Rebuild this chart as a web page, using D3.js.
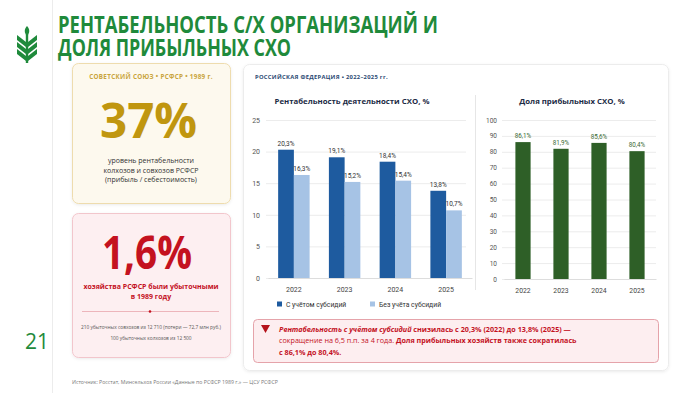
<!DOCTYPE html>
<html>
<head>
<meta charset="utf-8">
<script src="https://cdn.jsdelivr.net/npm/d3@7"></script>
<style>
  body { margin: 0; background: #fff; }
  svg { display: block; font-family: "Open Sans", "Noto Sans", sans-serif; }
</style>
</head>
<body>
<div id="chart"></div>
<script>
// chart data
const years = ['2022', '2023', '2024', '2025'];
const withSubsidy = [20.3, 19.1, 18.4, 13.8];
const withoutSubsidy = [16.3, 15.2, 15.4, 10.7];
const profitableShare = [86.1, 81.9, 85.6, 80.4];
const leftTicks = [0, 5, 10, 15, 20, 25];
const rightTicks = [0, 10, 20, 30, 40, 50, 60, 70, 80, 90, 100];
const seriesNames = ['С учётом субсидий', 'Без учёта субсидий'];

const W = 700, H = 393;
const fmt = v => String(v).replace('.', ',') + '%';

const svg = d3.select('#chart').append('svg')
  .attr('width', W)
  .attr('height', H);

const defs = svg.append('defs');
const shadow = defs.append('filter').attr('id', 'shadow')
  .attr('x', '-5%').attr('y', '-5%').attr('width', '110%').attr('height', '110%');
shadow.append('feDropShadow')
  .attr('dx', 0).attr('dy', 1).attr('stdDeviation', 1.5)
  .attr('flood-color', '#000').attr('flood-opacity', 0.08);

// left strip divider
svg.append('line')
  .attr('x1', 52.5).attr('x2', 52.5).attr('y1', 0).attr('y2', H)
  .attr('stroke', '#ececec');

// wheat logo
const logo = svg.append('g').attr('transform', 'translate(27, 26)').attr('fill', '#1f8a3b');
logo.append('rect').attr('x', -1.2).attr('y', 8).attr('width', 2.4).attr('height', 29);
logo.append('path').attr('d', 'M0,0 C3,3 3,7 0,10 C-3,7 -3,3 0,0Z');
[9, 16, 23].forEach(y => {
  logo.append('path').attr('d', `M-1,${y + 7} L-10,${y} L-10,${y + 5} L-1,${y + 12}Z`);
  logo.append('path').attr('d', `M1,${y + 7} L10,${y} L10,${y + 5} L1,${y + 12}Z`);
});

// page number
svg.append('text')
  .attr('x', 37).attr('y', 349)
  .attr('text-anchor', 'middle')
  .attr('font-size', 21)
  .attr('fill', '#1f8a3b')
  .text('21');

// title
const titleLines = ['РЕНТАБЕЛЬНОСТЬ С/Х ОРГАНИЗАЦИЙ И', 'ДОЛЯ ПРИБЫЛЬНЫХ СХО'];
const titleWidths = [380, 233];
titleLines.forEach((t, i) => {
  svg.append('text')
    .attr('x', 58).attr('y', 33 + i * 23)
    .attr('font-size', 24)
    .attr('font-weight', 700)
    .attr('fill', '#1f8a3b')
    .attr('textLength', titleWidths[i])
    .attr('lengthAdjust', 'spacingAndGlyphs')
    .text(t);
});

// card helper
function card(x, y, w, h, fill, stroke) {
  return svg.append('rect')
    .attr('x', x).attr('y', y).attr('width', w).attr('height', h)
    .attr('rx', 6)
    .attr('fill', fill)
    .attr('stroke', stroke)
    .attr('filter', 'url(#shadow)');
}

// Soviet card (gold)
card(72.5, 63.5, 158, 140, '#fdf9ee', '#eedcae');
svg.append('text')
  .attr('x', 151).attr('y', 78.5)
  .attr('text-anchor', 'middle')
  .attr('font-size', 6.3).attr('font-weight', 700)
  .attr('fill', '#c9a43c')
  .attr('letter-spacing', 0.3)
  .text('СОВЕТСКИЙ СОЮЗ • РСФСР • 1989 г.');
svg.append('text')
  .attr('x', 100).attr('y', 138)
  .attr('font-size', 48).attr('font-weight', 700)
  .attr('fill', '#c0960f')
  .attr('textLength', 97)
  .attr('lengthAdjust', 'spacingAndGlyphs')
  .text('37%');
['уровень рентабельности', 'колхозов и совхозов РСФСР', '(прибыль / себестоимость)'].forEach((t, i) => {
  svg.append('text')
    .attr('x', 151).attr('y', 163 + i * 9.5)
    .attr('text-anchor', 'middle')
    .attr('font-size', 7)
    .attr('fill', '#333')
    .text(t);
});

// loss card (red)
card(72.5, 213.5, 158, 144, '#fdeff1', '#f2c6cc');
svg.append('text')
  .attr('x', 102).attr('y', 269)
  .attr('font-size', 47).attr('font-weight', 700)
  .attr('fill', '#c4121f')
  .attr('textLength', 90)
  .attr('lengthAdjust', 'spacingAndGlyphs')
  .text('1,6%');
['хозяйства РСФСР были убыточными', 'в 1989 году'].forEach((t, i) => {
  svg.append('text')
    .attr('x', 151).attr('y', 288.5 + i * 10.5)
    .attr('text-anchor', 'middle')
    .attr('font-size', 7).attr('font-weight', 700)
    .attr('fill', '#c4121f')
    .text(t);
});
svg.append('line')
  .attr('x1', 82).attr('x2', 219).attr('y1', 311.5).attr('y2', 311.5)
  .attr('stroke', '#e9a6ad').attr('stroke-width', 0.8);
svg.append('circle').attr('cx', 150).attr('cy', 311.5).attr('r', 1.3).attr('fill', '#c4121f');
['210 убыточных совхозов из 12 710 (потери — 72,7 млн руб.)', '100 убыточных колхозов из 12 500'].forEach((t, i) => {
  svg.append('text')
    .attr('x', 151).attr('y', 329 + i * 10.5)
    .attr('text-anchor', 'middle')
    .attr('font-size', 4.8)
    .attr('fill', '#555')
    .text(t);
});

// Russian Federation card
card(243.5, 64.5, 425, 306, '#ffffff', '#ececec');
svg.append('text')
  .attr('x', 255).attr('y', 78.5)
  .attr('font-size', 5.8).attr('font-weight', 700)
  .attr('fill', '#2b4a73')
  .attr('letter-spacing', 0.3)
  .text('РОССИЙСКАЯ ФЕДЕРАЦИЯ • 2022–2025 гг.');

// --- left chart: profitability ---
const lx = d3.scaleBand().domain(years).range([268, 472]).paddingInner(0.38).paddingOuter(0.2);
const ly = d3.scaleLinear().domain([0, 25]).range([278, 120]);
const sub = d3.scaleBand().domain([0, 1]).range([0, lx.bandwidth()]);
const blue = ['#1e5b9f', '#a6c3e5'];

const lc = svg.append('g');
lc.append('text')
  .attr('x', 352).attr('y', 104)
  .attr('text-anchor', 'middle')
  .attr('font-size', 7.8).attr('font-weight', 700)
  .attr('fill', '#1c2b45')
  .text('Рентабельность деятельности СХО, %');

const lyAxis = lc.append('g')
  .attr('transform', 'translate(266,0)')
  .call(d3.axisLeft(ly).tickValues(leftTicks).tickSize(-200).tickFormat(d3.format('d')));
lyAxis.select('.domain').remove();
lyAxis.selectAll('.tick line').attr('stroke', '#ececec');
lyAxis.selectAll('.tick text').attr('x', -6).attr('font-size', 7).attr('fill', '#555')
  .attr('font-family', 'Roboto, sans-serif');

const lxAxis = lc.append('g')
  .attr('transform', 'translate(0,278)')
  .call(d3.axisBottom(lx).tickSize(0));
lxAxis.select('.domain').attr('stroke', '#ddd');
lxAxis.selectAll('.tick text').attr('y', 9).attr('font-size', 7).attr('fill', '#444')
  .attr('font-family', 'Roboto, sans-serif');

[withSubsidy, withoutSubsidy].forEach((series, s) => {
  const grp = lc.append('g');
  grp.selectAll('rect')
    .data(series)
    .enter()
    .append('rect')
    .attr('x', (d, i) => lx(years[i]) + sub(s))
    .attr('y', d => ly(d))
    .attr('width', sub.bandwidth())
    .attr('height', d => ly(0) - ly(d))
    .attr('fill', blue[s]);
  grp.selectAll('text')
    .data(series)
    .enter()
    .append('text')
    .attr('x', (d, i) => lx(years[i]) + sub(s) + sub.bandwidth() / 2)
    .attr('y', d => ly(d) - 4)
    .attr('text-anchor', 'middle')
    .attr('font-size', 6.5)
    .attr('fill', '#333')
    .attr('font-family', 'Roboto, sans-serif')
    .text(d => fmt(d));
});

// legend
const legendX = [277, 370];
seriesNames.forEach((name, i) => {
  lc.append('rect')
    .attr('x', legendX[i]).attr('y', 301.5)
    .attr('width', 5).attr('height', 5)
    .attr('fill', blue[i]);
  lc.append('text')
    .attr('x', legendX[i] + 9).attr('y', 306.5)
    .attr('font-size', 6.8)
    .attr('fill', '#333')
    .attr('font-family', 'Roboto, sans-serif')
    .text(name);
});

// divider between charts
svg.append('line')
  .attr('x1', 475.5).attr('x2', 475.5).attr('y1', 95).attr('y2', 290)
  .attr('stroke', '#e6e6e6');

// --- right chart: share of profitable ---
const rx = d3.scaleBand().domain(years).range([504, 656]).paddingInner(0.6).paddingOuter(0.3);
const ry = d3.scaleLinear().domain([0, 100]).range([279, 120]);
const green = '#2e5f27';

const rc = svg.append('g');
rc.append('text')
  .attr('x', 572).attr('y', 104)
  .attr('text-anchor', 'middle')
  .attr('font-size', 7.8).attr('font-weight', 700)
  .attr('fill', '#1c2b45')
  .text('Доля прибыльных СХО, %');

const ryAxis = rc.append('g')
  .attr('transform', 'translate(502,0)')
  .call(d3.axisLeft(ry).tickValues(rightTicks).tickSize(-154).tickFormat(d3.format('d')));
ryAxis.select('.domain').remove();
ryAxis.selectAll('.tick line').attr('stroke', '#ececec');
ryAxis.selectAll('.tick text').attr('x', -5).attr('font-size', 6.5).attr('fill', '#555')
  .attr('font-family', 'Roboto, sans-serif');

const rxAxis = rc.append('g')
  .attr('transform', 'translate(0,279)')
  .call(d3.axisBottom(rx).tickSize(0));
rxAxis.select('.domain').attr('stroke', '#ddd');
rxAxis.selectAll('.tick text').attr('y', 9).attr('font-size', 6.8).attr('fill', '#444')
  .attr('font-family', 'Roboto, sans-serif');

rc.selectAll('.bar')
  .data(profitableShare)
  .enter()
  .append('rect')
  .attr('class', 'bar')
  .attr('x', (d, i) => rx(years[i]))
  .attr('y', d => ry(d))
  .attr('width', rx.bandwidth())
  .attr('height', d => ry(0) - ry(d))
  .attr('fill', green);
rc.selectAll('.bar-label')
  .data(profitableShare)
  .enter()
  .append('text')
  .attr('class', 'bar-label')
  .attr('x', (d, i) => rx(years[i]) + rx.bandwidth() / 2)
  .attr('y', d => ry(d) - 4)
  .attr('text-anchor', 'middle')
  .attr('font-size', 6.3)
  .attr('fill', '#3c6b34')
  .attr('font-family', 'Roboto, sans-serif')
  .text(d => fmt(d));

// alert box
svg.append('rect')
  .attr('x', 253.5).attr('y', 319.5).attr('width', 405).attr('height', 43)
  .attr('rx', 4)
  .attr('fill', '#fdeef0')
  .attr('stroke', '#e5a3aa');
svg.append('path')
  .attr('d', 'M261,325 L270,325 L265.5,333Z')
  .attr('fill', '#b5121b');

const alert = svg.append('g').attr('font-size', 7.2).attr('fill', '#c4121f');
const l1 = alert.append('text').attr('x', 279).attr('y', 331.5).attr('font-weight', 700);
l1.append('tspan').attr('font-style', 'italic').text('Рентабельность с учётом субсидий');
l1.append('tspan').text(' снизилась с 20,3% (2022) до 13,8% (2025) —');
const l2 = alert.append('text').attr('x', 279).attr('y', 343);
l2.append('tspan').text('сокращение на 6,5 п.п. за 4 года. ');
l2.append('tspan').attr('font-weight', 700).text('Доля прибыльных хозяйств также сократилась');
alert.append('text').attr('x', 279).attr('y', 354.5).attr('font-weight', 700)
  .text('с 86,1% до 80,4%.');

// source
svg.append('text')
  .attr('x', 72).attr('y', 384)
  .attr('font-size', 5.2)
  .attr('fill', '#777')
  .text('Источник: Росстат, Минсельхоз России «Данные по РСФСР 1989 г.» — ЦСУ РСФСР');
</script>
</body>
</html>
